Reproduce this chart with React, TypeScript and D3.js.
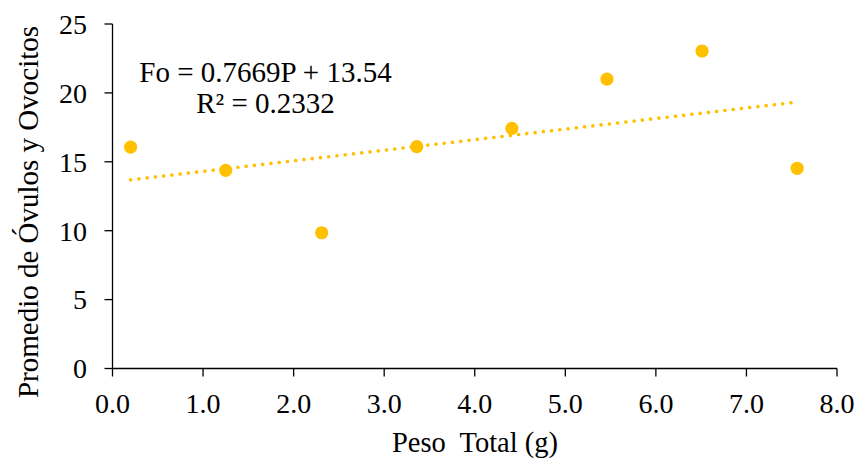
import React from "react";
import * as d3 from "d3";

const pesoTotal = [0.2, 1.25, 2.31, 3.36, 4.41, 5.46, 6.51, 7.56];
const promedio = [16.07, 14.38, 9.85, 16.1, 17.43, 21.0, 23.04, 14.53];
const slope = 0.7669;
const intercept = 13.54;
const xTicks = [0, 1, 2, 3, 4, 5, 6, 7, 8];
const yTicks = [0, 5, 10, 15, 20, 25];
const equationText = "Fo = 0.7669P + 13.54";
const r2Text = "R² = 0.2332";
const xTitle = "Peso  Total (g)";
const yTitle = "Promedio de Óvulos y Ovocitos";

const W = 859;
const H = 461;
const FONT = "'Liberation Serif', 'Times New Roman', serif";
const GOLD = "#FFC000";

export default function App() {
  const x = d3.scaleLinear().domain([0, 8]).range([112.5, 837]);
  const y = d3.scaleLinear().domain([0, 25]).range([368.5, 24]);
  const xMin = d3.min(pesoTotal) as number;
  const xMax = d3.max(pesoTotal) as number;
  const trend = d3
    .line<number>()
    .x((d) => x(d))
    .y((d) => y(slope * d + intercept));

  return (
    <div style={{ position: "absolute", left: 0, top: 0 }}>
      <svg width={W} height={H} style={{ display: "block", background: "#fff" }}>
        {/* axes */}
        <line x1={x(0)} x2={x(0)} y1={y(25)} y2={y(0)} stroke="#000" strokeWidth={1.3} />
        <line x1={x(0)} x2={x(8)} y1={y(0)} y2={y(0)} stroke="#000" strokeWidth={1.3} />
        {yTicks.map((t) => (
          <g key={"y" + t}>
            <line x1={x(0) - 8} x2={x(0)} y1={y(t)} y2={y(t)} stroke="#000" strokeWidth={1.3} />
            <text
              x={87}
              y={y(t)}
              dy="0.35em"
              textAnchor="end"
              fontFamily={FONT}
              fontSize={28}
              fill="#000"
            >
              {t}
            </text>
          </g>
        ))}
        {xTicks.map((t) => (
          <g key={"x" + t}>
            <line x1={x(t)} x2={x(t)} y1={y(0)} y2={y(0) + 8} stroke="#000" strokeWidth={1.3} />
            <text
              x={x(t)}
              y={413}
              textAnchor="middle"
              fontFamily={FONT}
              fontSize={28}
              fill="#000"
            >
              {t.toFixed(1)}
            </text>
          </g>
        ))}
        {/* trendline */}
        <path
          d={trend([xMin, xMax]) || ""}
          fill="none"
          stroke={GOLD}
          strokeWidth={3.6}
          strokeDasharray="0.01 8.3"
          strokeLinecap="round"
        />
        {/* points */}
        {pesoTotal.map((p, i) => (
          <circle key={i} cx={x(p)} cy={y(promedio[i])} r={6.6} fill={GOLD} />
        ))}
        {/* equation */}
        <text x={265.5} y={81.7} textAnchor="middle" fontFamily={FONT} fontSize={29} fill="#000">
          {equationText}
        </text>
        <text x={265.5} y={113.3} textAnchor="middle" fontFamily={FONT} fontSize={29} fill="#000">
          {r2Text}
        </text>
        {/* titles */}
        <text
          x={475}
          y={451.5}
          textAnchor="middle"
          fontFamily={FONT}
          fontSize={28.5}
          fill="#000"
          style={{ whiteSpace: "pre" }}
        >
          {xTitle}
        </text>
        <text
          transform={`translate(38, 212) rotate(-90)`}
          textAnchor="middle"
          fontFamily={FONT}
          fontSize={29}
          fill="#000"
        >
          {yTitle}
        </text>
      </svg>
    </div>
  );
}
